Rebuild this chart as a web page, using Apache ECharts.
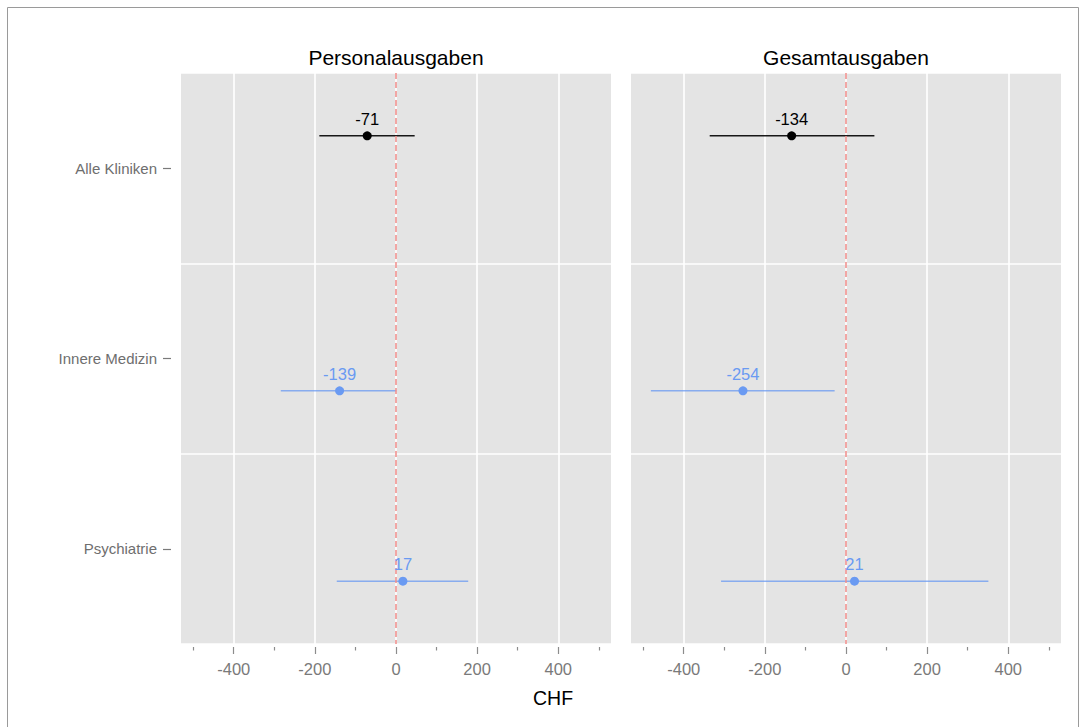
<!DOCTYPE html>
<html>
<head>
<meta charset="utf-8">
<script src="https://cdn.jsdelivr.net/npm/echarts@6/dist/echarts.min.js"></script>
<style>
  html, body { margin: 0; padding: 0; background: #ffffff; }
  #chart { width: 1085px; height: 727px; }
</style>
</head>
<body>
<div id="chart"></div>
<script>
// Rows (top to bottom) and facet panels
const categories = ['Alle Kliniken', 'Innere Medizin', 'Psychiatrie'];
const panelTitles = ['Personalausgaben', 'Gesamtausgaben'];
// 0 = all clinics together, 1 = single clinic
const rowGroup = [0, 1, 1];

// Effect estimates with confidence intervals, CHF
const personalEstimate = [-71, -139, 17];
const personalLower = [-189, -284, -146];
const personalUpper = [46, 1, 178];
const gesamtEstimate = [-134, -254, 21];
const gesamtLower = [-336, -481, -308];
const gesamtUpper = [70, -28, 351];

// Axis ticks
const majorTicks = [-400, -200, 0, 200, 400];
const minorTicks = [-500, -300, -100, 100, 300, 500];
const referenceValue = [0];
const axisTitle = 'CHF';

const FONT = '"Liberation Sans", Arial, Helvetica, sans-serif';
const groupColor = ['#000000', '#6A9AF2'];
const lineOpacity = [0.9, 0.75];
const DODGE = 0.17;

const panels = [
  { est: personalEstimate, lo: personalLower, hi: personalUpper },
  { est: gesamtEstimate, lo: gesamtLower, hi: gesamtUpper }
];
const gridLefts = [181, 631];
const GRID_TOP = 73, GRID_W = 430, GRID_H = 571;

// Dodged row position: overall estimate sits above the row centre, clinics below
function rowPos(i) {
  return i + 1 + (rowGroup[i] === 0 ? -DODGE : DODGE);
}

const grid = [], xAxis = [], yAxis = [], series = [];

panels.forEach((p, g) => {
  grid.push({
    left: gridLefts[g], top: GRID_TOP, width: GRID_W, height: GRID_H,
    show: true, backgroundColor: '#E4E4E4', borderWidth: 0
  });

  // major ticks, labels and vertical grid lines
  xAxis.push({
    gridIndex: g, type: 'value', min: -530, max: 530, position: 'bottom', offset: 3,
    axisLine: { show: false, onZero: false },
    axisTick: { show: true, customValues: majorTicks, length: 7, lineStyle: { color: '#8C8C8C', width: 1.2 } },
    axisLabel: { show: true, customValues: majorTicks, margin: 13, color: '#7A7A7A', fontSize: 16.5, fontFamily: FONT },
    splitLine: { show: true, lineStyle: { color: '#FFFFFF', width: 1.6 } }
  });
  // minor ticks
  xAxis.push({
    gridIndex: g, type: 'value', min: -530, max: 530, position: 'bottom', offset: 3,
    axisLine: { show: false, onZero: false },
    axisTick: { show: true, customValues: minorTicks, length: 3.5, lineStyle: { color: '#8C8C8C', width: 1.2 } },
    axisLabel: { show: false },
    splitLine: { show: false }
  });

  // row labels and horizontal separators
  yAxis.push({
    gridIndex: g, type: 'category', data: categories, inverse: true, position: 'left', offset: 10,
    axisLine: { show: false, onZero: false },
    axisTick: { show: g === 0, alignWithLabel: true, length: 8, lineStyle: { color: '#7A7A7A', width: 1.2 } },
    axisLabel: { show: g === 0, margin: 14, color: '#6E6E6E', fontSize: 15, fontFamily: FONT },
    splitLine: { show: true, interval: 0, lineStyle: { color: '#FFFFFF', width: 1.6 } }
  });
  // numeric row scale for the dodged marks
  yAxis.push({
    gridIndex: g, type: 'value', min: 0.5, max: 3.5, inverse: true, show: false,
    axisLine: { onZero: false },
    splitLine: { show: false }
  });

  const xi = 2 * g, yi = 2 * g + 1;

  // confidence interval bars
  series.push({
    type: 'custom', xAxisIndex: xi, yAxisIndex: yi, z: 2, silent: true,
    data: categories.map((c, i) => [p.lo[i], p.hi[i], rowPos(i), rowGroup[i]]),
    encode: { x: [0, 1], y: 2 },
    renderItem(params, api) {
      const a = api.coord([api.value(0), api.value(2)]);
      const b = api.coord([api.value(1), api.value(2)]);
      const grp = api.value(3);
      return {
        type: 'line',
        shape: { x1: a[0], y1: a[1], x2: b[0], y2: b[1] },
        style: { stroke: groupColor[grp], lineWidth: 1.5, opacity: lineOpacity[grp] }
      };
    }
  });

  // dashed reference line at zero
  series.push({
    type: 'custom', xAxisIndex: xi, yAxisIndex: yi, z: 3, silent: true,
    data: referenceValue.map(v => [v]),
    encode: { x: 0 },
    renderItem(params, api) {
      const cs = params.coordSys;
      const x = api.coord([api.value(0), 2])[0];
      return {
        type: 'line',
        shape: { x1: x, y1: cs.y, x2: x, y2: cs.y + cs.height },
        style: { stroke: '#F08A88', lineWidth: 1.5, lineDash: [6, 3] }
      };
    }
  });

  // point estimates with value labels
  series.push({
    type: 'scatter', xAxisIndex: xi, yAxisIndex: yi, z: 5, silent: true,
    symbol: 'circle', symbolSize: 9,
    data: categories.map((c, i) => ({
      value: [p.est[i], rowPos(i)],
      itemStyle: { color: groupColor[rowGroup[i]], opacity: 1 },
      label: { color: groupColor[rowGroup[i]] }
    })),
    label: {
      show: true, position: 'top', distance: 4,
      fontSize: 16.5, fontFamily: FONT,
      formatter: (d) => String(d.value[0])
    },
    emphasis: { disabled: true }
  });
});

const graphic = [
  {
    type: 'rect', silent: true, z: 0,
    shape: { x: 7.5, y: 7.5, width: 1071, height: 740 },
    style: { fill: 'none', stroke: '#9A9A9A', lineWidth: 1 }
  },
  ...panelTitles.map((t, g) => ({
    type: 'text', silent: true,
    x: gridLefts[g] + GRID_W / 2, y: 57,
    style: { text: t, fill: '#000000', font: '21px ' + FONT, textAlign: 'center', textVerticalAlign: 'middle' }
  })),
  {
    type: 'text', silent: true, x: 553, y: 698,
    style: { text: axisTitle, fill: '#000000', font: '19.5px ' + FONT, textAlign: 'center', textVerticalAlign: 'middle' }
  }
];

const chart = echarts.init(document.getElementById('chart'), null, { renderer: 'svg' });
chart.setOption({
  animation: false,
  backgroundColor: '#FFFFFF',
  textStyle: { fontFamily: FONT },
  grid, xAxis, yAxis, series, graphic
});
</script>
</body>
</html>
